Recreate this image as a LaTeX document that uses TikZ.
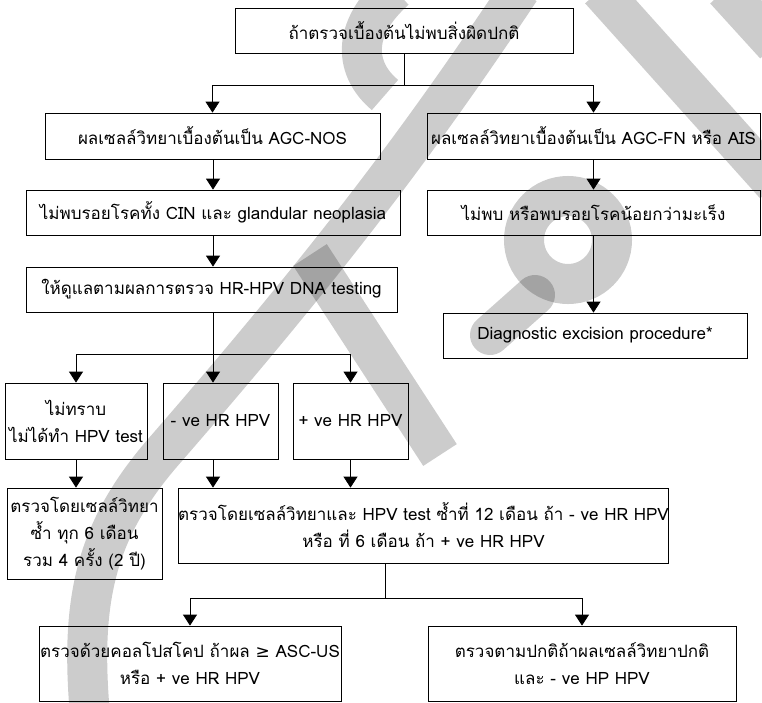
\documentclass[tikz,border=0pt]{standalone}
\usepackage{fontspec}
\usetikzlibrary{arrows.meta}
\newfontfamily\thaifont[Script=Thai]{Loma}
\newfontfamily\symfont{DejaVu Sans}

\tikzset{
  box/.style={draw, line width=0.8pt, inner sep=0pt, align=center,
    font=\thaifont\fontsize{17}{27}\selectfont},
  link/.style={line width=0.8pt},
  arr/.style={line width=0.8pt, -{Triangle[width=14pt,length=11pt]}},
  wm/.style={draw=black, draw opacity=0.2, line width=40pt},
}

\begin{document}
\begin{tikzpicture}[x=1pt,y=-1pt]
\useasboundingbox[fill=white] (0,0) rectangle (762,702);

% first level
\node[box, minimum width=338pt, minimum height=45pt] (top) at (404,30.5) {ถ้าตรวจเบื้องต้นไม่พบสิ่งผิดปกติ};

% left column
\node[box, minimum width=335pt, minimum height=46pt] (a1) at (212.5,136) {ผลเซลล์วิทยาเบื้องต้นเป็น AGC-NOS};
\node[box, minimum width=374pt, minimum height=45pt] (a2) at (213,212.5) {ไม่พบรอยโรคทั้ง CIN และ glandular neoplasia};
\node[box, minimum width=371pt, minimum height=45pt] (a3) at (211.5,289.5) {ให้ดูแลตามผลการตรวจ HR-HPV DNA testing};

% right column
\node[box, minimum width=333pt, minimum height=46pt] (b1) at (593.5,136) {ผลเซลล์วิทยาเบื้องต้นเป็น AGC-FN หรือ AIS};
\node[box, minimum width=333pt, minimum height=45pt] (b2) at (593.5,212.5) {ไม่พบ หรือพบรอยโรคน้อยกว่ามะเร็ง};
\node[box, minimum width=304pt, minimum height=45pt] (b3) at (595,335.5) {Diagnostic excision procedure*};

% HPV result boxes
\node[box, minimum width=142pt, minimum height=76pt] (c1) at (76,421) {ไม่ทราบ\\ไม่ได้ทำ HPV test};
\node[box, minimum width=115pt, minimum height=76pt] (c2) at (220.5,421) {- ve HR HPV};
\node[box, minimum width=115pt, minimum height=76pt] (c3) at (350.5,421) {+ ve HR HPV};

% follow-up boxes
\node[box, minimum width=155pt, minimum height=91pt] (d1) at (84.5,533.5) {ตรวจโดยเซลล์วิทยา\\ซ้ำ ทุก 6 เดือน\\รวม 4 ครั้ง (2 ปี)};
\node[box, minimum width=489pt, minimum height=75pt] (d2) at (423.5,525.5) {ตรวจโดยเซลล์วิทยาและ HPV test ซ้ำที่ 12 เดือน ถ้า - ve HR HPV\\หรือ ที่ 6 เดือน ถ้า + ve HR HPV};

% outcome boxes
\node[box, minimum width=302pt, minimum height=75pt] (e1) at (190,663.5) {ตรวจด้วยคอลโปสโคป ถ้าผล {\symfont ≥} ASC-US\\หรือ + ve HR HPV};
\node[box, minimum width=308pt, minimum height=75pt] (e2) at (582,663.5) {ตรวจตามปกติถ้าผลเซลล์วิทยาปกติ\\และ - ve HP HPV};

% junction points
\coordinate (j1) at (404,85);
\coordinate (j2) at (213,354);
\coordinate (j3) at (385,598);

% connectors
\draw[link] (top.south) -- (j1);
\draw[arr] (j1) -| (a1.north);
\draw[arr] (j1) -| (b1.north);
\draw[arr] (a1.south -| j2) -- (a2.north -| j2);
\draw[arr] (a2.south -| j2) -- (a3.north -| j2);
\draw[arr] (b1.south) -- (b2.north);
\draw[arr] (b2.south) -- (b2.south |- b3.north);

\draw[link] (a3.south -| j2) -- (j2);
\draw[arr] (j2) -| (c1.north);
\draw[arr] (j2) -- (j2 |- c2.north);
\draw[arr] (j2) -| (c3.north);

\draw[arr] (c1.south) -- (c1.south |- d1.north);
\draw[arr] (j2 |- c2.south) -- (j2 |- d2.north);
\draw[arr] (c3.south) -- (c3.south |- d2.north);

\draw[link] (j3 |- d2.south) -- (j3);
\draw[arr] (j3) -| (e1.north);
\draw[arr] (j3) -| (e2.north);

% translucent watermark strokes laid over the chart
\draw[wm] (520,-10) .. controls (420,140) and (330,260) .. (165,450)
          .. controls (95,530) and (80,600) .. (90,715);
\draw[wm] (600,-10) -- (775,185);
\draw[wm] (725,-10) -- (775,45);
\draw[wm] (395,-10) .. controls (350,30) and (355,70) .. (385,95);
\draw[wm] (568,240) circle (44);
\draw[wm, line cap=round] (535,295) -- (490,335);
\draw[wm] (310,255) -- (440,455);
\end{tikzpicture}
\end{document}
